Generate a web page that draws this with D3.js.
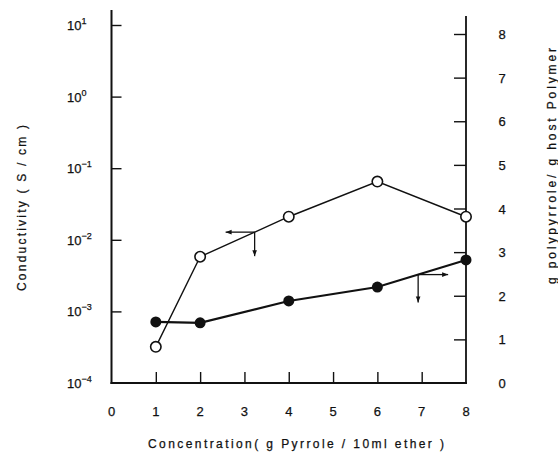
<!DOCTYPE html>
<html>
<head>
<meta charset="utf-8">
<script src="https://cdn.jsdelivr.net/npm/d3@7/dist/d3.min.js"></script>
<style>
  html, body { margin: 0; padding: 0; background: #fff; }
  svg { display: block; }
  text { font-family: "Liberation Sans", Arial, Helvetica, sans-serif; fill: #111; stroke: #111; stroke-width: 0.25; }
</style>
</head>
<body>
<svg id="chart" width="558" height="459"></svg>
<script>
// Pyrrole concentration in the ether solution (g / 10 ml)
const concentration = [1, 2, 4, 6, 8];
// Conductivity of the composite film, S/cm (open circles, left axis)
const conductivity = [3.2e-4, 5.8e-3, 2.1e-2, 6.5e-2, 2.1e-2];
// Weight ratio g polypyrrole / g host polymer (filled circles, right axis)
const polymerRatio = [1.40, 1.38, 1.88, 2.20, 2.82];

// Axis ticks
const xTickLabels = [0, 1, 2, 3, 4, 5, 6, 7, 8];
const leftExponents = [-4, -3, -2, -1, 0, 1];
const rightTickLabels = [0, 1, 2, 3, 4, 5, 6, 7, 8];

// Where the axis-pointer arrows sit along each curve (x in g/10 ml)
const conductivityArrowAt = 3.23;
const ratioArrowAt = 6.92;

const svg = d3.select("#chart");
const ink = "#111";

const x = d3.scaleLinear().domain([0, 8]).range([111.5, 466]);
const yLeft = d3.scaleLog().domain([1e-4, 1e1]).range([383, 25]);
const yRight = d3.scaleLinear().domain([0, 8]).range([383, 34]);

// Frame: left axis, right axis, bottom axis
svg.append("line").attr("x1", x(0)).attr("x2", x(0)).attr("y1", 10).attr("y2", 384)
  .attr("stroke", ink).attr("stroke-width", 2);
svg.append("line").attr("x1", x(8)).attr("x2", x(8)).attr("y1", 16).attr("y2", 384)
  .attr("stroke", ink).attr("stroke-width", 1.8);
svg.append("line").attr("x1", x(0) - 1).attr("x2", x(8) + 1).attr("y1", 383).attr("y2", 383)
  .attr("stroke", ink).attr("stroke-width", 1.8);

// Inward tick marks
const leftAxis = d3.axisLeft(yLeft)
  .tickValues(leftExponents.filter(e => e > -4).map(e => Math.pow(10, e)))
  .tickSizeInner(-10).tickSizeOuter(0).tickFormat("");
svg.append("g").attr("transform", `translate(${x(0)},0)`).call(leftAxis)
  .call(g => g.select(".domain").remove())
  .call(g => g.selectAll(".tick line").attr("stroke", ink).attr("stroke-width", 1.4));

const rightAxis = d3.axisRight(yRight)
  .tickValues(rightTickLabels.filter(v => v > 0))
  .tickSizeInner(-12).tickSizeOuter(0).tickFormat("");
svg.append("g").attr("transform", `translate(${x(8)},0)`).call(rightAxis)
  .call(g => g.select(".domain").remove())
  .call(g => g.selectAll(".tick line").attr("stroke", ink).attr("stroke-width", 1.4));

const bottomAxis = d3.axisBottom(x)
  .tickValues(xTickLabels.filter(v => v > 0 && v < 8))
  .tickSizeInner(-11).tickSizeOuter(0).tickFormat("");
svg.append("g").attr("transform", "translate(0,383)").call(bottomAxis)
  .call(g => g.select(".domain").remove())
  .call(g => g.selectAll(".tick line").attr("stroke", ink).attr("stroke-width", 1.4));

// Tick labels
svg.append("g").selectAll("text").data(xTickLabels).join("text")
  .attr("x", d => x(d)).attr("y", 416)
  .attr("text-anchor", "middle").attr("font-size", 13)
  .text(d => d);

svg.append("g").selectAll("text").data(rightTickLabels).join("text")
  .attr("x", 502).attr("y", d => yRight(d) + 5)
  .attr("text-anchor", "middle").attr("font-size", 13)
  .text(d => d);

const leftLabels = svg.append("g").selectAll("text").data(leftExponents).join("text")
  .attr("x", 67).attr("y", d => yLeft(Math.pow(10, d)) + 5)
  .attr("font-size", 13);
leftLabels.append("tspan").text("10");
leftLabels.append("tspan").attr("dy", -6).attr("font-size", 9)
  .text(d => d < 0 ? "\u2212" + Math.abs(d) : d);

// Axis titles
svg.append("text")
  .attr("transform", "translate(26,208) rotate(-90)")
  .attr("text-anchor", "middle").attr("font-size", 12)
  .attr("textLength", 166).attr("lengthAdjust", "spacing")
  .text("Conductivity ( S / cm )");

svg.append("text")
  .attr("transform", "translate(556,166) rotate(-90)")
  .attr("text-anchor", "middle").attr("font-size", 12)
  .attr("textLength", 236).attr("lengthAdjust", "spacing")
  .text("g polypyrrole/ g host Polymer");

svg.append("text")
  .attr("x", 296).attr("y", 448)
  .attr("text-anchor", "middle").attr("font-size", 12)
  .attr("textLength", 296).attr("lengthAdjust", "spacing")
  .text("Concentration( g Pyrrole / 10ml ether )");

// Data series
const condPts = concentration.map((c, i) => [x(c), yLeft(conductivity[i])]);
const ratioPts = concentration.map((c, i) => [x(c), yRight(polymerRatio[i])]);
const line = d3.line();

svg.append("path").attr("d", line(ratioPts))
  .attr("fill", "none").attr("stroke", ink).attr("stroke-width", 2.2);
svg.append("path").attr("d", line(condPts))
  .attr("fill", "none").attr("stroke", ink).attr("stroke-width", 1.4);

svg.append("g").selectAll("circle").data(ratioPts).join("circle")
  .attr("cx", d => d[0]).attr("cy", d => d[1]).attr("r", 5.5)
  .attr("fill", ink);
svg.append("g").selectAll("circle").data(condPts).join("circle")
  .attr("cx", d => d[0]).attr("cy", d => d[1]).attr("r", 5.2)
  .attr("fill", "#fff").attr("stroke", ink).attr("stroke-width", 1.6);

// Point on a polyline at a given concentration
function pointAt(pts, c) {
  const px = x(c);
  for (let i = 0; i < pts.length - 1; i++) {
    if (px >= pts[i][0] && px <= pts[i + 1][0]) {
      const t = (px - pts[i][0]) / (pts[i + 1][0] - pts[i][0]);
      return [px, pts[i][1] + t * (pts[i + 1][1] - pts[i][1])];
    }
  }
  return [px, pts[pts.length - 1][1]];
}

// Arrow from (x0,y0) to (x1,y1) with a small solid head
function arrow(x0, y0, x1, y1) {
  svg.append("line").attr("x1", x0).attr("y1", y0).attr("x2", x1).attr("y2", y1)
    .attr("stroke", ink).attr("stroke-width", 1.3);
  const a = Math.atan2(y1 - y0, x1 - x0);
  const len = 6, half = 2.3;
  const bx = x1 - len * Math.cos(a), by = y1 - len * Math.sin(a);
  const nx = -Math.sin(a) * half, ny = Math.cos(a) * half;
  svg.append("path")
    .attr("d", `M${x1},${y1}L${bx + nx},${by + ny}L${bx - nx},${by - ny}Z`)
    .attr("fill", ink);
}

// Conductivity curve reads on the left axis
const [ax, ay] = pointAt(condPts, conductivityArrowAt);
arrow(ax, ay, ax - 29, ay);
arrow(ax, ay, ax, ay + 24);

// Ratio curve reads on the right axis
const [bx, by] = pointAt(ratioPts, ratioArrowAt);
arrow(bx, by, bx + 30, by);
arrow(bx, by, bx, by + 28);
</script>
</body>
</html>
